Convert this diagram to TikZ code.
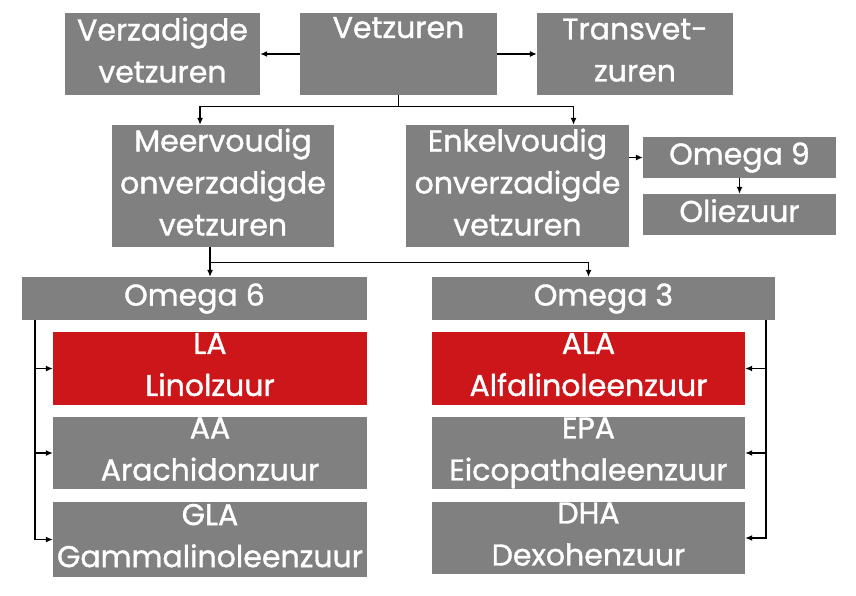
\documentclass[tikz,border=0pt]{standalone}
\usepackage{xcolor}
\usepackage{tikz}
\usepackage{fontspec}
\setmainfont{Poppins}[FakeBold=1.2]
\definecolor{boxgrey}{RGB}{128, 128, 128}
\definecolor{acidred}{RGB}{204, 22, 26}
\usetikzlibrary{arrows.meta, positioning, calc}

\begin{document}
\begin{tikzpicture}[
    x=1pt, y=-1pt,
    acid/.style={rectangle, fill=boxgrey, text=white, inner sep=0pt, align=center, text depth=8pt, font=\fontsize{30}{42}\selectfont},
    keyacid/.style={acid, fill=acidred},
    link/.style={draw=black, line width=1.2pt, -{Latex[length=7pt, width=6pt]}},
    rail/.style={draw=black, line width=1.2pt}
]
    \useasboundingbox[fill=white] (0,0) rectangle (856,596);
    % top row
    \node[acid, minimum width=195, minimum height=82] (verz) at (162.5, 54) {Verzadigde\\vetzuren};
    \node[acid, minimum width=197, minimum height=82, text height=25pt, text depth=57pt] (vet) at (398.5, 54) {Vetzuren};
    \node[acid, minimum width=196, minimum height=82] (trans) at (635, 54) {Transvet-\\zuren};
    % middle row
    \node[acid, minimum width=222, minimum height=122] (meer) at (223, 186) {Meervoudig\\onverzadigde\\vetzuren};
    \node[acid, minimum width=223, minimum height=122] (enkel) at (517.5, 186) {Enkelvoudig\\onverzadigde\\vetzuren};
    \node[acid, minimum width=193, minimum height=41] (om9) at (739.5, 157.5) {Omega 9};
    \node[acid, minimum width=193, minimum height=41] (olie) at (739.5, 214.5) {Oliezuur};
    % omega 6 and omega 3
    \node[acid, minimum width=345, minimum height=43] (om6) at (194.5, 298.5) {Omega 6};
    \node[acid, minimum width=343, minimum height=43] (om3) at (603.5, 298.5) {Omega 3};
    \node[keyacid, minimum width=314, minimum height=73] (la) at (210, 368.5) {LA\\Linolzuur};
    \node[acid, minimum width=314, minimum height=72] (aa) at (210, 453) {AA\\Arachidonzuur};
    \node[acid, minimum width=314, minimum height=75] (gla) at (210, 539.5) {GLA\\Gammalinoleenzuur};
    \node[keyacid, minimum width=313, minimum height=73] (ala) at (588.5, 368.5) {ALA\\Alfalinoleenzuur};
    \node[acid, minimum width=313, minimum height=72] (epa) at (588.5, 453) {EPA\\Eicopathaleenzuur};
    \node[acid, minimum width=313, minimum height=72] (dha) at (588.5, 538) {DHA\\Dexohenzuur};

    % connectors
    \draw[link] (vet.west) -- (verz.east);
    \draw[link] (vet.east) -- (trans.west);
    \coordinate (split1) at ($(vet.south)+(0,11)$);
    \draw[rail] (vet.south) -- (split1);
    \draw[link] (split1) -| ([xshift=-23]meer.north);
    \draw[link] (split1) -| ([xshift=56]enkel.north);
    \draw[link] (enkel.east |- om9.west) -- (om9.west);
    \draw[link] (om9.south) -- (olie.north);
    \coordinate (split2) at ($(meer.south -| la.north)+(0,15)$);
    \draw[link] (meer.south -| la.north) -- (om6.north -| la.north);
    \draw[link] (split2) -| (om3.north -| ala.north);
    % rails
    \coordinate (rail6) at (om6.south -| 35,0);
    \coordinate (rail3) at (om3.south -| 766,0);
    \draw[link] (rail6) |- (gla.west);
    \foreach \n in {la, aa}
        \draw[link] (rail6 |- \n.west) -- (\n.west);
    \draw[link] (rail3) |- (dha.east);
    \foreach \n in {ala, epa}
        \draw[link] (rail3 |- \n.east) -- (\n.east);
\end{tikzpicture}
\end{document}
